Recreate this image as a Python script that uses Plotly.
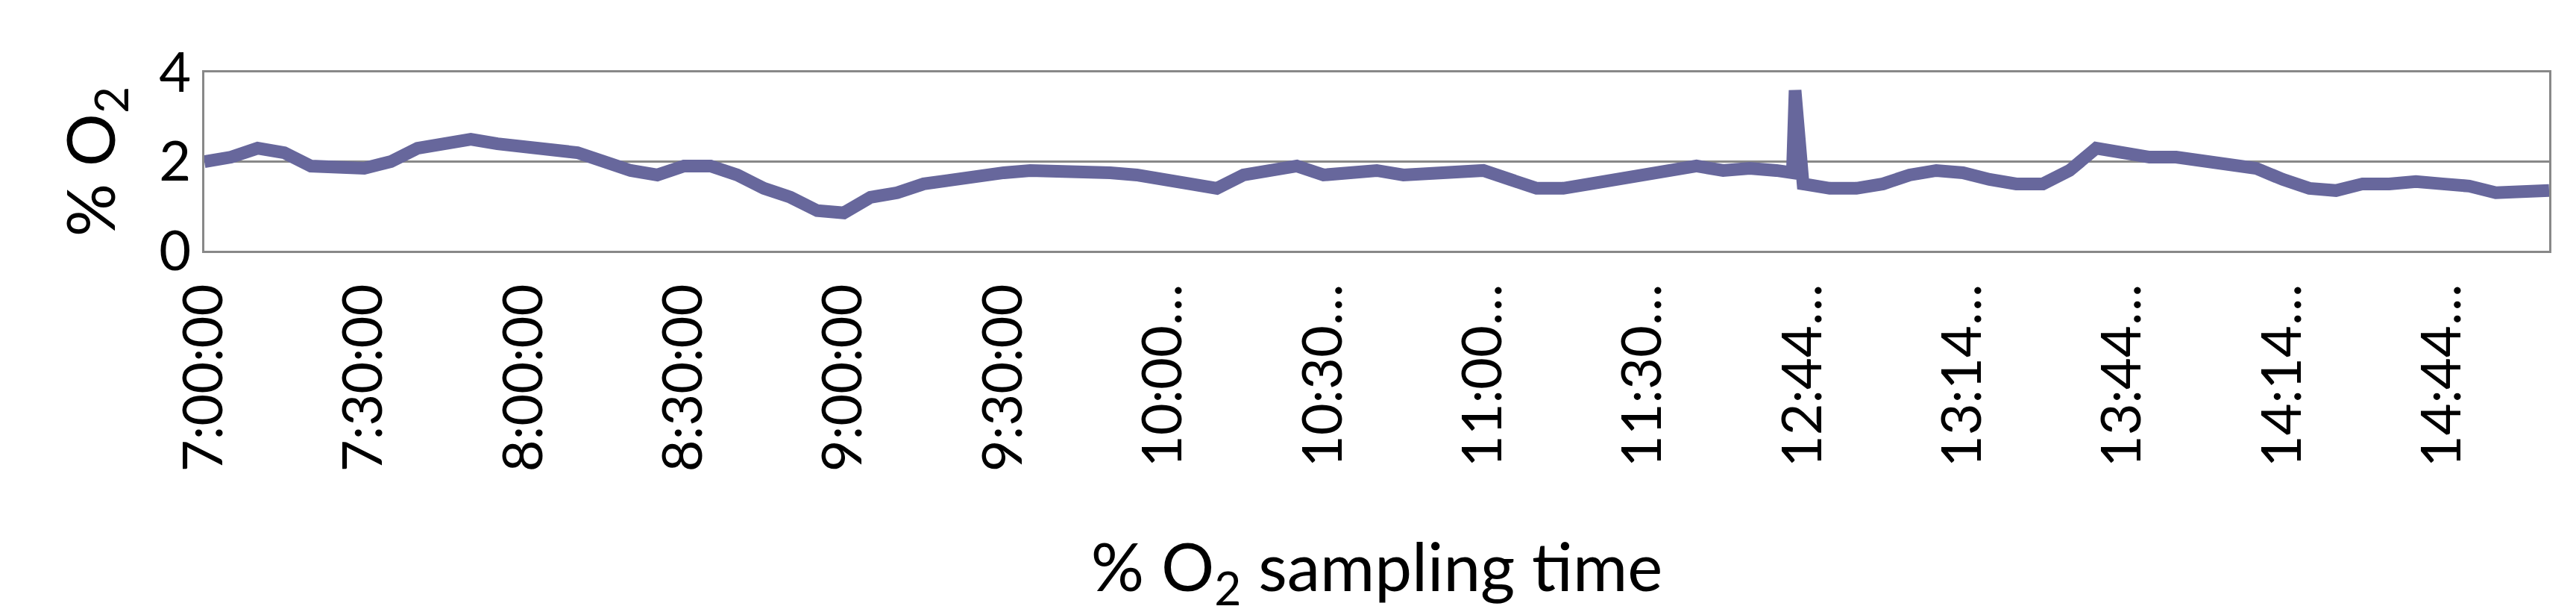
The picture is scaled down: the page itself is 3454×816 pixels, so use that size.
import plotly.graph_objects as go

tick_labels = ["7:00:00","7:30:00","8:00:00","8:30:00","9:00:00","9:30:00","10:00…","10:30…",
               "11:00…","11:30…","12:44…","13:14…","13:44…","14:14…","14:44…"]
tick_pos = [0,30,60,90,120,150,180,210,240,270,300,330,360,390,420]

sample_pos = [0,5,10,15,20,25,30,35,40,45,50,55,60,65,70,75,80,85,90,95,100,105,110,115,
              120,125,130,135,140,145,150,155,160,165,170,175,180,185,190,195,200,205,
              210,215,220,225,230,235,240,245,250,255,260,265,270,275,280,285,290,295,
              298,298.5,299.5,300,305,310,315,320,325,330,335,340,345,350,355,360,365,370,
              375,380,385,390,395,400,405,410,415,420,425,430,435,440]
o2 = [2.0,2.1,2.3,2.2,1.9,1.85,1.85,2.0,2.3,2.4,2.5,2.4,2.35,2.3,2.2,2.0,1.8,1.7,
      1.9,1.9,1.7,1.4,1.2,0.9,0.85,1.2,1.3,1.5,1.6,1.7,1.75,1.8,1.8,1.8,1.75,1.7,
      1.6,1.45,1.4,1.7,1.8,1.9,1.7,1.75,1.8,1.7,1.75,1.8,1.8,1.6,1.4,1.4,1.5,1.6,
      1.7,1.8,1.9,1.8,1.85,1.8,1.75,3.6,1.6,1.5,1.4,1.4,1.5,1.7,1.8,1.75,1.6,1.5,1.5,
      1.8,2.3,2.2,2.1,2.1,2.0,1.9,1.85,1.6,1.4,1.35,1.5,1.5,1.55,1.5,1.45,1.3,1.3,1.35]

color = "#67679c"
font = "Lato"
fig = go.Figure(go.Scatter(x=sample_pos, y=o2, mode="lines",
                           line=dict(color=color, width=17), showlegend=False))
fig.update_layout(
    width=3454, height=816, paper_bgcolor="white", plot_bgcolor="white",
    margin=dict(l=266, r=44, t=89, b=488),
    font=dict(family=font, size=74, color="black"),
)
fig.update_xaxes(range=[0, 440], tickvals=tick_pos, ticktext=tick_labels, tickangle=-90,
                 showgrid=False, showline=True, linecolor="#888", linewidth=3, mirror=True,
                 ticks="outside", ticklen=12, tickcolor="white",
                 title=dict(text="% O<sub>2</sub> sampling time", standoff=110))
fig.update_yaxes(range=[0, 4], tickvals=[0, 2, 4], showgrid=True, gridcolor="#888", gridwidth=3,
                 showline=True, linecolor="#888", linewidth=3, mirror=True, zeroline=False,
                 ticks="", title=dict(text="% O<sub>2</sub>", standoff=30))
fig.write_html("out.html")
